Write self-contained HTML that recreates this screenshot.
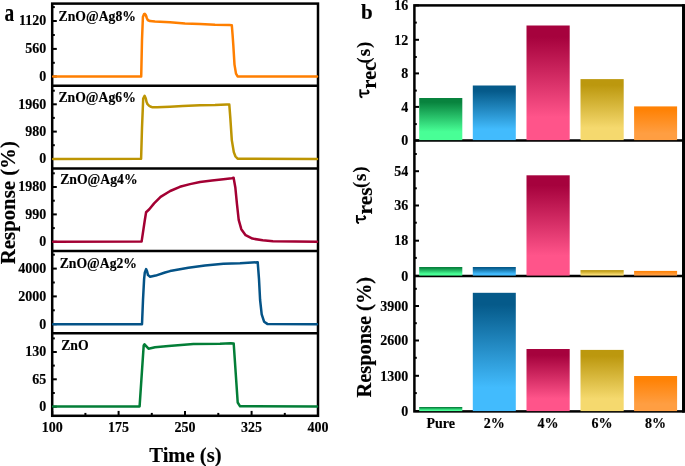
<!DOCTYPE html>
<html><head><meta charset="utf-8"><style>
html,body{margin:0;padding:0;background:#fff;}
svg{display:block;will-change:transform;}
text{font-family:"Liberation Serif", serif;font-weight:bold;fill:#000;stroke:#000;stroke-width:0.15px;}
</style></head><body>
<svg width="685" height="466" viewBox="0 0 685 466">
<rect width="685" height="466" fill="#fff"/>
<line x1="52.2" y1="21.0" x2="56.8" y2="21.0" stroke="#000" stroke-width="2"/>
<text x="46.3" y="25.3" text-anchor="end" font-size="14">1120</text>
<line x1="52.2" y1="48.9" x2="56.8" y2="48.9" stroke="#000" stroke-width="2"/>
<text x="46.3" y="53.2" text-anchor="end" font-size="14">560</text>
<line x1="52.2" y1="76.5" x2="56.8" y2="76.5" stroke="#000" stroke-width="2"/>
<text x="46.3" y="80.8" text-anchor="end" font-size="14">0</text>
<line x1="52.2" y1="7.1" x2="54.8" y2="7.1" stroke="#000" stroke-width="2"/>
<line x1="52.2" y1="35.0" x2="54.8" y2="35.0" stroke="#000" stroke-width="2"/>
<line x1="52.2" y1="62.8" x2="54.8" y2="62.8" stroke="#000" stroke-width="2"/>
<line x1="52.2" y1="104.3" x2="56.8" y2="104.3" stroke="#000" stroke-width="2"/>
<text x="46.3" y="108.6" text-anchor="end" font-size="14">1960</text>
<line x1="52.2" y1="131.6" x2="56.8" y2="131.6" stroke="#000" stroke-width="2"/>
<text x="46.3" y="135.9" text-anchor="end" font-size="14">980</text>
<line x1="52.2" y1="159.0" x2="56.8" y2="159.0" stroke="#000" stroke-width="2"/>
<text x="46.3" y="163.3" text-anchor="end" font-size="14">0</text>
<line x1="52.2" y1="90.7" x2="54.8" y2="90.7" stroke="#000" stroke-width="2"/>
<line x1="52.2" y1="117.9" x2="54.8" y2="117.9" stroke="#000" stroke-width="2"/>
<line x1="52.2" y1="145.2" x2="54.8" y2="145.2" stroke="#000" stroke-width="2"/>
<line x1="52.2" y1="187.0" x2="56.8" y2="187.0" stroke="#000" stroke-width="2"/>
<text x="46.3" y="191.3" text-anchor="end" font-size="14">1980</text>
<line x1="52.2" y1="214.4" x2="56.8" y2="214.4" stroke="#000" stroke-width="2"/>
<text x="46.3" y="218.7" text-anchor="end" font-size="14">990</text>
<line x1="52.2" y1="241.8" x2="56.8" y2="241.8" stroke="#000" stroke-width="2"/>
<text x="46.3" y="246.1" text-anchor="end" font-size="14">0</text>
<line x1="52.2" y1="173.3" x2="54.8" y2="173.3" stroke="#000" stroke-width="2"/>
<line x1="52.2" y1="200.7" x2="54.8" y2="200.7" stroke="#000" stroke-width="2"/>
<line x1="52.2" y1="228.1" x2="54.8" y2="228.1" stroke="#000" stroke-width="2"/>
<line x1="52.2" y1="268.6" x2="56.8" y2="268.6" stroke="#000" stroke-width="2"/>
<text x="46.3" y="272.9" text-anchor="end" font-size="14">4000</text>
<line x1="52.2" y1="296.4" x2="56.8" y2="296.4" stroke="#000" stroke-width="2"/>
<text x="46.3" y="300.7" text-anchor="end" font-size="14">2000</text>
<line x1="52.2" y1="324.2" x2="56.8" y2="324.2" stroke="#000" stroke-width="2"/>
<text x="46.3" y="328.5" text-anchor="end" font-size="14">0</text>
<line x1="52.2" y1="254.7" x2="54.8" y2="254.7" stroke="#000" stroke-width="2"/>
<line x1="52.2" y1="282.5" x2="54.8" y2="282.5" stroke="#000" stroke-width="2"/>
<line x1="52.2" y1="310.3" x2="54.8" y2="310.3" stroke="#000" stroke-width="2"/>
<line x1="52.2" y1="352.0" x2="56.8" y2="352.0" stroke="#000" stroke-width="2"/>
<text x="46.3" y="356.3" text-anchor="end" font-size="14">130</text>
<line x1="52.2" y1="379.3" x2="56.8" y2="379.3" stroke="#000" stroke-width="2"/>
<text x="46.3" y="383.6" text-anchor="end" font-size="14">65</text>
<line x1="52.2" y1="406.7" x2="56.8" y2="406.7" stroke="#000" stroke-width="2"/>
<text x="46.3" y="411.0" text-anchor="end" font-size="14">0</text>
<line x1="52.2" y1="338.4" x2="54.8" y2="338.4" stroke="#000" stroke-width="2"/>
<line x1="52.2" y1="365.6" x2="54.8" y2="365.6" stroke="#000" stroke-width="2"/>
<line x1="52.2" y1="393.0" x2="54.8" y2="393.0" stroke="#000" stroke-width="2"/>
<line x1="52.2" y1="415.8" x2="52.2" y2="410.9" stroke="#000" stroke-width="2"/>
<text x="52.2" y="431.6" text-anchor="middle" font-size="14">100</text>
<line x1="85.4" y1="415.8" x2="85.4" y2="412.9" stroke="#000" stroke-width="2"/>
<line x1="118.6" y1="415.8" x2="118.6" y2="410.9" stroke="#000" stroke-width="2"/>
<text x="118.6" y="431.6" text-anchor="middle" font-size="14">175</text>
<line x1="151.8" y1="415.8" x2="151.8" y2="412.9" stroke="#000" stroke-width="2"/>
<line x1="185.0" y1="415.8" x2="185.0" y2="410.9" stroke="#000" stroke-width="2"/>
<text x="185.0" y="431.6" text-anchor="middle" font-size="14">250</text>
<line x1="218.3" y1="415.8" x2="218.3" y2="412.9" stroke="#000" stroke-width="2"/>
<line x1="251.6" y1="415.8" x2="251.6" y2="410.9" stroke="#000" stroke-width="2"/>
<text x="251.6" y="431.6" text-anchor="middle" font-size="14">325</text>
<line x1="284.8" y1="415.8" x2="284.8" y2="412.9" stroke="#000" stroke-width="2"/>
<line x1="318.0" y1="415.8" x2="318.0" y2="410.9" stroke="#000" stroke-width="2"/>
<text x="318.0" y="431.6" text-anchor="middle" font-size="14">400</text>
<rect x="52.2" y="3.6" width="265.8" height="412.2" fill="none" stroke="#000" stroke-width="2.5"/>
<line x1="52.2" y1="85.8" x2="318.0" y2="85.8" stroke="#000" stroke-width="2.5"/>
<line x1="52.2" y1="168.4" x2="318.0" y2="168.4" stroke="#000" stroke-width="2.5"/>
<line x1="52.2" y1="250.9" x2="318.0" y2="250.9" stroke="#000" stroke-width="2.5"/>
<line x1="52.2" y1="333.3" x2="318.0" y2="333.3" stroke="#000" stroke-width="2.5"/>
<path d="M53.2,76.5 L141.2,76.5 L142.0,40 L142.9,17 L144.0,14.2 L144.8,13.8 L145.8,15.0 L146.8,18.0 L147.7,20.0 L150,21.1 L155,21.6 L170,22.3 L185,23.4 L200,24.0 L215,24.8 L229.4,25.1 L231.8,25.2 L232.6,35 L233.3,45 L234.5,64.6 L236,73.6 L237.6,76.4 L317,76.5" fill="none" stroke="#FF7F00" stroke-width="2.5" stroke-linejoin="round" stroke-linecap="round"/>
<path d="M53.2,158.9 L141.1,158.8 L142,128 L143.2,98.5 L144.6,95.8 L145.8,98.5 L146.5,101.8 L147.5,104.2 L149.0,105.7 L150.3,106.5 L152,107.2 L157,107.3 L170,106.7 L182.8,105.9 L200,105.3 L215,105.0 L226.8,104.4 L229.3,104.6 L230.3,117.6 L231.8,140.1 L233.8,152.1 L235.5,156.5 L237.6,158.7 L317,158.9" fill="none" stroke="#BD9503" stroke-width="2.5" stroke-linejoin="round" stroke-linecap="round"/>
<path d="M53.2,241.7 L141.6,241.6 L144.8,220.3 L146.1,212.2 L149.3,209.3 L154.1,203.4 L160.6,196.9 L170.2,191 L179.9,186.8 L190,184.1 L200,182 L212,180.5 L223.4,179.2 L231.9,178.2 L233.6,177.7 L235.3,187.2 L237,204.3 L238.7,219.8 L241.3,229.2 L245.6,235.2 L252.4,238.6 L262.7,240.3 L273,241.2 L317,241.7" fill="none" stroke="#A30033" stroke-width="2.5" stroke-linejoin="round" stroke-linecap="round"/>
<path d="M53.2,324.3 L142,324.2 L143,300 L144.1,279.1 L144.8,272.7 L146.1,269.1 L147,271 L148,275.1 L150.1,276.7 L155.7,275.6 L165,272.5 L170,271.1 L188.4,267.8 L205,265.6 L223.4,263.8 L240,263.3 L257.7,262.2 L259,279.1 L260.1,300 L261.7,314.4 L264.1,321.7 L267.3,323.9 L317,324.3" fill="none" stroke="#045387" stroke-width="2.5" stroke-linejoin="round" stroke-linecap="round"/>
<path d="M53.2,406.6 L139.6,406.4 L143.7,345.4 L144.5,344.3 L148.5,348.7 L155,347.3 L168.6,345.9 L193.4,344 L220,343.8 L230.8,343.3 L233.7,343.5 L237.7,402.5 L240.1,406.3 L317,406.6" fill="none" stroke="#037E37" stroke-width="2.5" stroke-linejoin="round" stroke-linecap="round"/>
<text x="58.55" y="20.9" font-size="13.7">ZnO@Ag8%</text>
<text x="58.45" y="102.1" font-size="13.7">ZnO@Ag6%</text>
<text x="60.2" y="184.4" font-size="13.7">ZnO@Ag4%</text>
<text x="59.65" y="267.6" font-size="13.7">ZnO@Ag2%</text>
<text x="61.2" y="349.6" font-size="13.7">ZnO</text>
<text transform="translate(4.5,21.2) scale(0.76,1)" font-size="25.5">a</text>
<text transform="translate(14.7,202.7) rotate(-90)" text-anchor="middle" font-size="20.8">Response (%)</text>
<text x="185.4" y="461.8" text-anchor="middle" font-size="20.6">Time (s)</text>
<defs>
<linearGradient id="g0" x1="0" y1="0" x2="0" y2="1"><stop offset="0.1" stop-color="#08833E"/><stop offset="0.8" stop-color="#48FF96"/></linearGradient>
<linearGradient id="g1" x1="0" y1="0" x2="0" y2="1"><stop offset="0.1" stop-color="#055A8A"/><stop offset="0.8" stop-color="#42BBFD"/></linearGradient>
<linearGradient id="g2" x1="0" y1="0" x2="0" y2="1"><stop offset="0.1" stop-color="#A6023D"/><stop offset="0.8" stop-color="#FF548A"/></linearGradient>
<linearGradient id="g3" x1="0" y1="0" x2="0" y2="1"><stop offset="0.1" stop-color="#BC980E"/><stop offset="0.8" stop-color="#F5D96E"/></linearGradient>
<linearGradient id="g4" x1="0" y1="0" x2="0" y2="1"><stop offset="0.1" stop-color="#FF8205"/><stop offset="0.8" stop-color="#FF9E42"/></linearGradient>
</defs>
<line x1="414.4" y1="5.4" x2="419.0" y2="5.4" stroke="#000" stroke-width="2"/>
<text x="408.3" y="10.1" text-anchor="end" font-size="14">16</text>
<line x1="414.4" y1="39.8" x2="419.0" y2="39.8" stroke="#000" stroke-width="2"/>
<text x="408.3" y="44.5" text-anchor="end" font-size="14">12</text>
<line x1="414.4" y1="73.4" x2="419.0" y2="73.4" stroke="#000" stroke-width="2"/>
<text x="408.3" y="78.1" text-anchor="end" font-size="14">8</text>
<line x1="414.4" y1="106.9" x2="419.0" y2="106.9" stroke="#000" stroke-width="2"/>
<text x="408.3" y="111.6" text-anchor="end" font-size="14">4</text>
<line x1="414.4" y1="140.5" x2="419.0" y2="140.5" stroke="#000" stroke-width="2"/>
<text x="408.3" y="145.2" text-anchor="end" font-size="14">0</text>
<line x1="414.4" y1="22.6" x2="416.8" y2="22.6" stroke="#000" stroke-width="2"/>
<line x1="414.4" y1="57.0" x2="416.8" y2="57.0" stroke="#000" stroke-width="2"/>
<line x1="414.4" y1="90.6" x2="416.8" y2="90.6" stroke="#000" stroke-width="2"/>
<line x1="414.4" y1="124.1" x2="416.8" y2="124.1" stroke="#000" stroke-width="2"/>
<line x1="414.4" y1="171.2" x2="419.0" y2="171.2" stroke="#000" stroke-width="2"/>
<text x="408.3" y="175.9" text-anchor="end" font-size="14">54</text>
<line x1="414.4" y1="205.5" x2="419.0" y2="205.5" stroke="#000" stroke-width="2"/>
<text x="408.3" y="210.2" text-anchor="end" font-size="14">36</text>
<line x1="414.4" y1="240.7" x2="419.0" y2="240.7" stroke="#000" stroke-width="2"/>
<text x="408.3" y="245.4" text-anchor="end" font-size="14">18</text>
<line x1="414.4" y1="275.9" x2="419.0" y2="275.9" stroke="#000" stroke-width="2"/>
<text x="408.3" y="280.6" text-anchor="end" font-size="14">0</text>
<line x1="414.4" y1="188.3" x2="416.8" y2="188.3" stroke="#000" stroke-width="2"/>
<line x1="414.4" y1="222.7" x2="416.8" y2="222.7" stroke="#000" stroke-width="2"/>
<line x1="414.4" y1="257.9" x2="416.8" y2="257.9" stroke="#000" stroke-width="2"/>
<line x1="414.4" y1="154.0" x2="416.8" y2="154.0" stroke="#000" stroke-width="2"/>
<line x1="414.4" y1="306.0" x2="419.0" y2="306.0" stroke="#000" stroke-width="2"/>
<text x="408.3" y="310.7" text-anchor="end" font-size="14">3900</text>
<line x1="414.4" y1="340.5" x2="419.0" y2="340.5" stroke="#000" stroke-width="2"/>
<text x="408.3" y="345.2" text-anchor="end" font-size="14">2600</text>
<line x1="414.4" y1="375.8" x2="419.0" y2="375.8" stroke="#000" stroke-width="2"/>
<text x="408.3" y="380.5" text-anchor="end" font-size="14">1300</text>
<line x1="414.4" y1="411.1" x2="419.0" y2="411.1" stroke="#000" stroke-width="2"/>
<text x="408.3" y="415.8" text-anchor="end" font-size="14">0</text>
<line x1="414.4" y1="323.2" x2="416.8" y2="323.2" stroke="#000" stroke-width="2"/>
<line x1="414.4" y1="357.8" x2="416.8" y2="357.8" stroke="#000" stroke-width="2"/>
<line x1="414.4" y1="393.1" x2="416.8" y2="393.1" stroke="#000" stroke-width="2"/>
<line x1="414.4" y1="288.8" x2="416.8" y2="288.8" stroke="#000" stroke-width="2"/>
<rect x="414.4" y="5.4" width="269.0" height="406.0" fill="none" stroke="#000" stroke-width="2.5"/>
<line x1="414.4" y1="140.4" x2="683.4" y2="140.4" stroke="#000" stroke-width="2.5"/>
<line x1="414.4" y1="275.9" x2="683.4" y2="275.9" stroke="#000" stroke-width="2.5"/>
<rect x="682.1" y="4.15" width="2.9" height="408.50" fill="#000"/>
<rect x="419.2" y="98.0" width="43.1" height="42.1" fill="url(#g0)"/>
<rect x="472.8" y="85.5" width="43.0" height="54.6" fill="url(#g1)"/>
<rect x="526.5" y="25.5" width="43.2" height="114.6" fill="url(#g2)"/>
<rect x="580.5" y="79.1" width="43.2" height="61.0" fill="url(#g3)"/>
<rect x="634.1" y="106.4" width="43.0" height="33.7" fill="url(#g4)"/>
<rect x="419.2" y="267.0" width="43.1" height="8.6" fill="url(#g0)"/>
<rect x="472.8" y="267.0" width="43.0" height="8.6" fill="url(#g1)"/>
<rect x="526.5" y="175.3" width="43.2" height="100.3" fill="url(#g2)"/>
<rect x="580.5" y="270.1" width="43.2" height="5.5" fill="url(#g3)"/>
<rect x="634.1" y="270.9" width="43.0" height="4.7" fill="url(#g4)"/>
<rect x="419.2" y="407.0" width="43.1" height="4.1" fill="url(#g0)"/>
<rect x="472.8" y="292.8" width="43.0" height="118.3" fill="url(#g1)"/>
<rect x="526.5" y="349.0" width="43.2" height="62.1" fill="url(#g2)"/>
<rect x="580.5" y="349.9" width="43.2" height="61.2" fill="url(#g3)"/>
<rect x="634.1" y="376.0" width="43.0" height="35.1" fill="url(#g4)"/>
<text x="440.8" y="427.5" text-anchor="middle" font-size="14">Pure</text>
<text x="494.3" y="427.5" text-anchor="middle" font-size="14">2%</text>
<text x="548.1" y="427.5" text-anchor="middle" font-size="14">4%</text>
<text x="602.1" y="427.5" text-anchor="middle" font-size="14">6%</text>
<text x="655.6" y="427.5" text-anchor="middle" font-size="14">8%</text>
<text x="361" y="18.7" font-size="21">b</text>
<g transform="translate(368.8,98.0) rotate(-90)"><path d="M0.6,-6.4 C0.9,-7.9 1.6,-8.5 2.7,-8.5 L8.8,-8.5" fill="none" stroke="#000" stroke-width="1.9"/><path d="M4.5,-8.5 L4.5,-2.2 C4.5,0.2 6.6,0.5 7.9,-1.8" fill="none" stroke="#000" stroke-width="2.1"/><text x="9.2" y="6.9" font-size="20.6">rec</text><text x="34.6" y="0.8" font-size="19" letter-spacing="1.1"><tspan font-size="18">(</tspan>s<tspan font-size="18">)</tspan></text></g>
<g transform="translate(365.4,223.7) rotate(-90)"><path d="M0.6,-6.4 C0.9,-7.9 1.6,-8.5 2.7,-8.5 L8.8,-8.5" fill="none" stroke="#000" stroke-width="1.9"/><path d="M4.5,-8.5 L4.5,-2.2 C4.5,0.2 6.6,0.5 7.9,-1.8" fill="none" stroke="#000" stroke-width="2.1"/><text x="9.2" y="6.9" font-size="21.5">res</text><text x="35.6" y="0.8" font-size="19" letter-spacing="1.1"><tspan font-size="18">(</tspan>s<tspan font-size="18">)</tspan></text></g>
<text transform="translate(371.2,337.25) rotate(-90)" text-anchor="middle" font-size="20.4">Response (%)</text>
</svg>
</body></html>
